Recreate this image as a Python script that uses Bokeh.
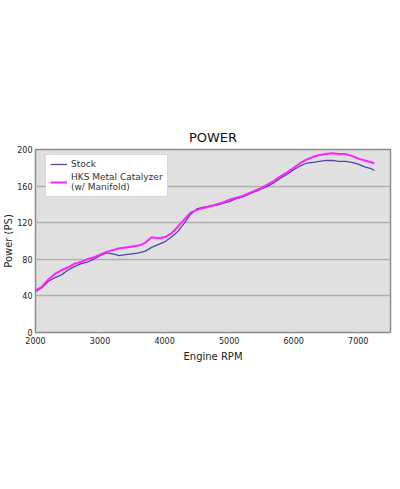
from bokeh.plotting import figure
from bokeh.embed import file_html
from bokeh.resources import INLINE
from bokeh.models import Legend, LegendItem, FixedTicker, Range1d

rpm = [2000, 2100, 2200, 2300, 2400, 2500, 2600, 2700, 2800, 2900,
       3000, 3100, 3200, 3300, 3400, 3500, 3600, 3700, 3800, 3900,
       4000, 4100, 4200, 4300, 4400, 4500, 4600, 4700, 4800, 4900,
       5000, 5100, 5200, 5300, 5400, 5500, 5600, 5700, 5800, 5900,
       6000, 6100, 6200, 6300, 6400, 6500, 6600, 6700, 6800, 6900,
       7000, 7100, 7200, 7250]

stock = [45, 49, 56, 60, 63, 68, 72, 75, 77, 80,
         84, 87, 86, 84, 85, 86, 87, 89, 93, 96,
         99, 104, 110, 119, 129, 135, 137, 138, 139, 141,
         143, 146, 148, 151, 154, 157, 160, 164, 169, 173,
         178, 182, 185, 186, 187, 188, 188, 187, 187, 186,
         184, 181, 179, 177]

hks = [46, 50, 58, 64, 68, 71, 75, 77, 80, 82,
       85, 88, 90, 92, 93, 94, 95, 98, 104, 103,
       104, 108, 115, 123, 131, 134, 136, 138, 140, 142,
       145, 147, 149, 152, 155, 158, 162, 166, 171, 175,
       180, 185, 189, 192, 194, 195, 196, 195, 195, 193,
       190, 188, 186, 185]

x_ticks = [2000, 3000, 4000, 5000, 6000, 7000]
y_ticks = [0, 40, 80, 120, 160, 200]

FONT = "DejaVu Sans"

p = figure(width=392, height=473, output_backend="svg", toolbar_location=None,
           x_range=Range1d(2000, 7500), y_range=Range1d(0, 200),
           title="POWER", min_border_left=35, min_border_right=2,
           min_border_top=149, min_border_bottom=141)

p.title.align = "center"
p.title.text_font = FONT
p.title.text_font_size = "13px"
p.title.text_font_style = "normal"
p.title.text_color = "#111111"
p.title.standoff = 9

p.background_fill_color = "#e0e0e0"
p.border_fill_color = "white"
p.outline_line_color = "#8c8c8c"
p.outline_line_width = 1.5

p.xaxis.ticker = FixedTicker(ticks=x_ticks)
p.yaxis.ticker = FixedTicker(ticks=y_ticks)
p.xgrid.grid_line_color = None
p.ygrid.grid_line_color = "#b0b0b0"
p.ygrid.grid_line_width = 1.5

for ax in (p.xaxis[0], p.yaxis[0]):
    ax.axis_line_color = None
    ax.major_tick_line_color = "#c8c8c8"
    ax.major_tick_in = 0
    ax.major_tick_out = 2
    ax.minor_tick_line_color = None
    ax.major_label_text_font = FONT
    ax.major_label_text_font_size = "8px"
    ax.major_label_text_color = "#222222"
    ax.axis_label_text_font = FONT
    ax.axis_label_text_font_size = "10px"
    ax.axis_label_text_font_style = "normal"
    ax.axis_label_text_color = "#222222"

p.yaxis.major_tick_out = 0
p.yaxis.major_tick_line_color = None
p.xaxis.axis_label = "Engine RPM"
p.yaxis.axis_label = "Power (PS)"
p.xaxis.major_label_standoff = 2
p.xaxis.axis_label_standoff = 4
p.yaxis.major_label_standoff = 3
p.yaxis.axis_label_standoff = 0

r_stock = p.line(rpm, stock, line_color="#4a4aa6", line_width=1.3)
r_hks = p.line(rpm, hks, line_color="#ff22ff", line_width=2)

legend = Legend(items=[
    LegendItem(label="Stock", renderers=[r_stock]),
    LegendItem(label="HKS Metal Catalyzer\n(w/ Manifold)", renderers=[r_hks]),
], location=(10, 135))
legend.margin = 0
legend.padding = 4
legend.spacing = 3
legend.label_text_font = FONT
legend.label_text_font_size = "9px"
legend.label_text_color = "#333333"
legend.label_height = 10
legend.glyph_width = 17
legend.glyph_height = 10
legend.label_standoff = 4
legend.border_line_color = "#b0b0b0"
legend.border_line_width = 1
legend.background_fill_color = "white"
legend.background_fill_alpha = 1
p.add_layout(legend)

open("out.html", "w").write(file_html(p, INLINE))
